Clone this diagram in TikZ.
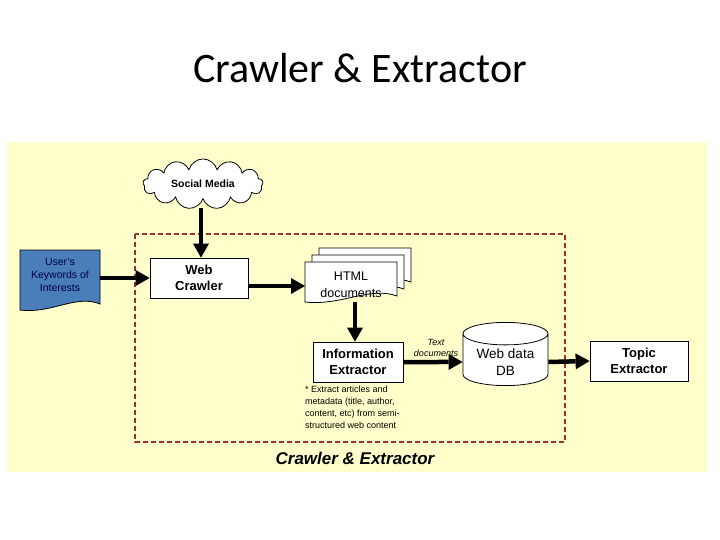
\documentclass[tikz,border=0pt]{standalone}
\usepackage{fontspec}
\setmainfont{Liberation Sans}
\newfontfamily\titlefont{Carlito}
\usetikzlibrary{shapes.symbols,shapes.geometric,arrows.meta}
\definecolor{bgy}{HTML}{FFFFCC}
\definecolor{dred}{HTML}{993333}
\definecolor{docblue}{HTML}{4A7EBB}
\tikzset{
 box/.style={draw,fill=white,line width=0.8pt,align=center,font=\bfseries\fontsize{13}{16}\selectfont},
 arr/.style={line width=4.5pt,-{Triangle[length=14pt,width=16pt,line width=0pt]}},
}
\newcommand{\docshape}[5]{% x1 y1 x2 y2 fill
 \filldraw[fill=#5,line width=0.8pt] (#1,#2) -- (#3,#2) -- (#3,#4-4)
  .. controls ({#3-0.3*(#3-#1)},#4-14) and ({#3-0.6*(#3-#1)},#4+6) .. (#1,#4+2) -- cycle;}
\begin{document}
\begin{tikzpicture}[x=1pt,y=-1pt]
\useasboundingbox (0,0) rectangle (720,540);
\fill[white] (0,0) rectangle (720,540);
\fill[bgy] (7,142) rectangle (707,472);
\node[font=\titlefont\fontsize{42}{46}\selectfont] (title) at (360,68) {Crawler \& Extractor};
\draw[dred,line width=1.5pt,dash pattern=on 5pt off 3pt] (135,234) rectangle (565,442);
% cloud
\node[cloud,draw,fill=white,cloud puffs=13,aspect=2.6,minimum width=120pt,minimum height=48pt,inner sep=0pt,line width=0.8pt,font=\bfseries\fontsize{10.5}{12}\selectfont] (cloud) at (203,184) {Social Media};
\coordinate (cb) at (201,208);
% keywords doc
\docshape{20}{250}{100}{308}{docblue}
\node[align=center,font=\fontsize{10.5}{13}\selectfont,text=black!70!blue] (kw) at (60,275) {User's\\Keywords of\\Interests};
\coordinate (kwr) at (100,278);
% crawler
\node[box,minimum width=98pt,minimum height=40pt] (wc) at (199,278) {Web\\Crawler};
% html docs
\docshape{319}{248}{411}{286}{white}
\docshape{312}{255}{404}{293}{white}
\docshape{305}{262}{397}{300}{white}
\node[align=center,font=\fontsize{12.5}{17}\selectfont] (html) at (351,285) {HTML\\documents};
\coordinate (htmll) at (305,286);
\coordinate (htmlb) at (355,302);
% info extractor
\node[box,minimum width=90pt,minimum height=40pt] (ie) at (358,362) {Information\\Extractor};
\node[font=\itshape\fontsize{9}{11.5}\selectfont,align=center] (td) at (436,348) {Text\\documents};
% DB
\node[cylinder,shape border rotate=90,draw,fill=white,line width=0.8pt,minimum width=85pt,minimum height=51pt,aspect=0.35,align=center,font=\fontsize{13.5}{17}\selectfont] (db) at (505.5,362) {Web data\\DB};
% topic
\node[box,minimum width=98pt,minimum height=40pt] (te) at (639,361) {Topic\\Extractor};
% note
\node[anchor=north west,align=left,font=\fontsize{9}{12}\selectfont,inner sep=0pt] (note) at (305,386) {* Extract articles and\\metadata (title, author,\\content, etc) from semi-\\structured web content};
\node[font=\bfseries\itshape\fontsize{17}{19}\selectfont] (lbl) at (355,458) {Crawler \& Extractor};
% arrows
\draw[arr] (cb) -- (cb |- wc.north);
\draw[arr] (kwr) -- (wc.west);
\draw[arr] (wc.east |- htmll) -- (htmll);
\draw[arr] (htmlb) -- (htmlb |- ie.north);
\draw[arr] (ie.east) -- (db.west);
\draw[arr] (db.east) -- (te.west);
\end{tikzpicture}
\end{document}
